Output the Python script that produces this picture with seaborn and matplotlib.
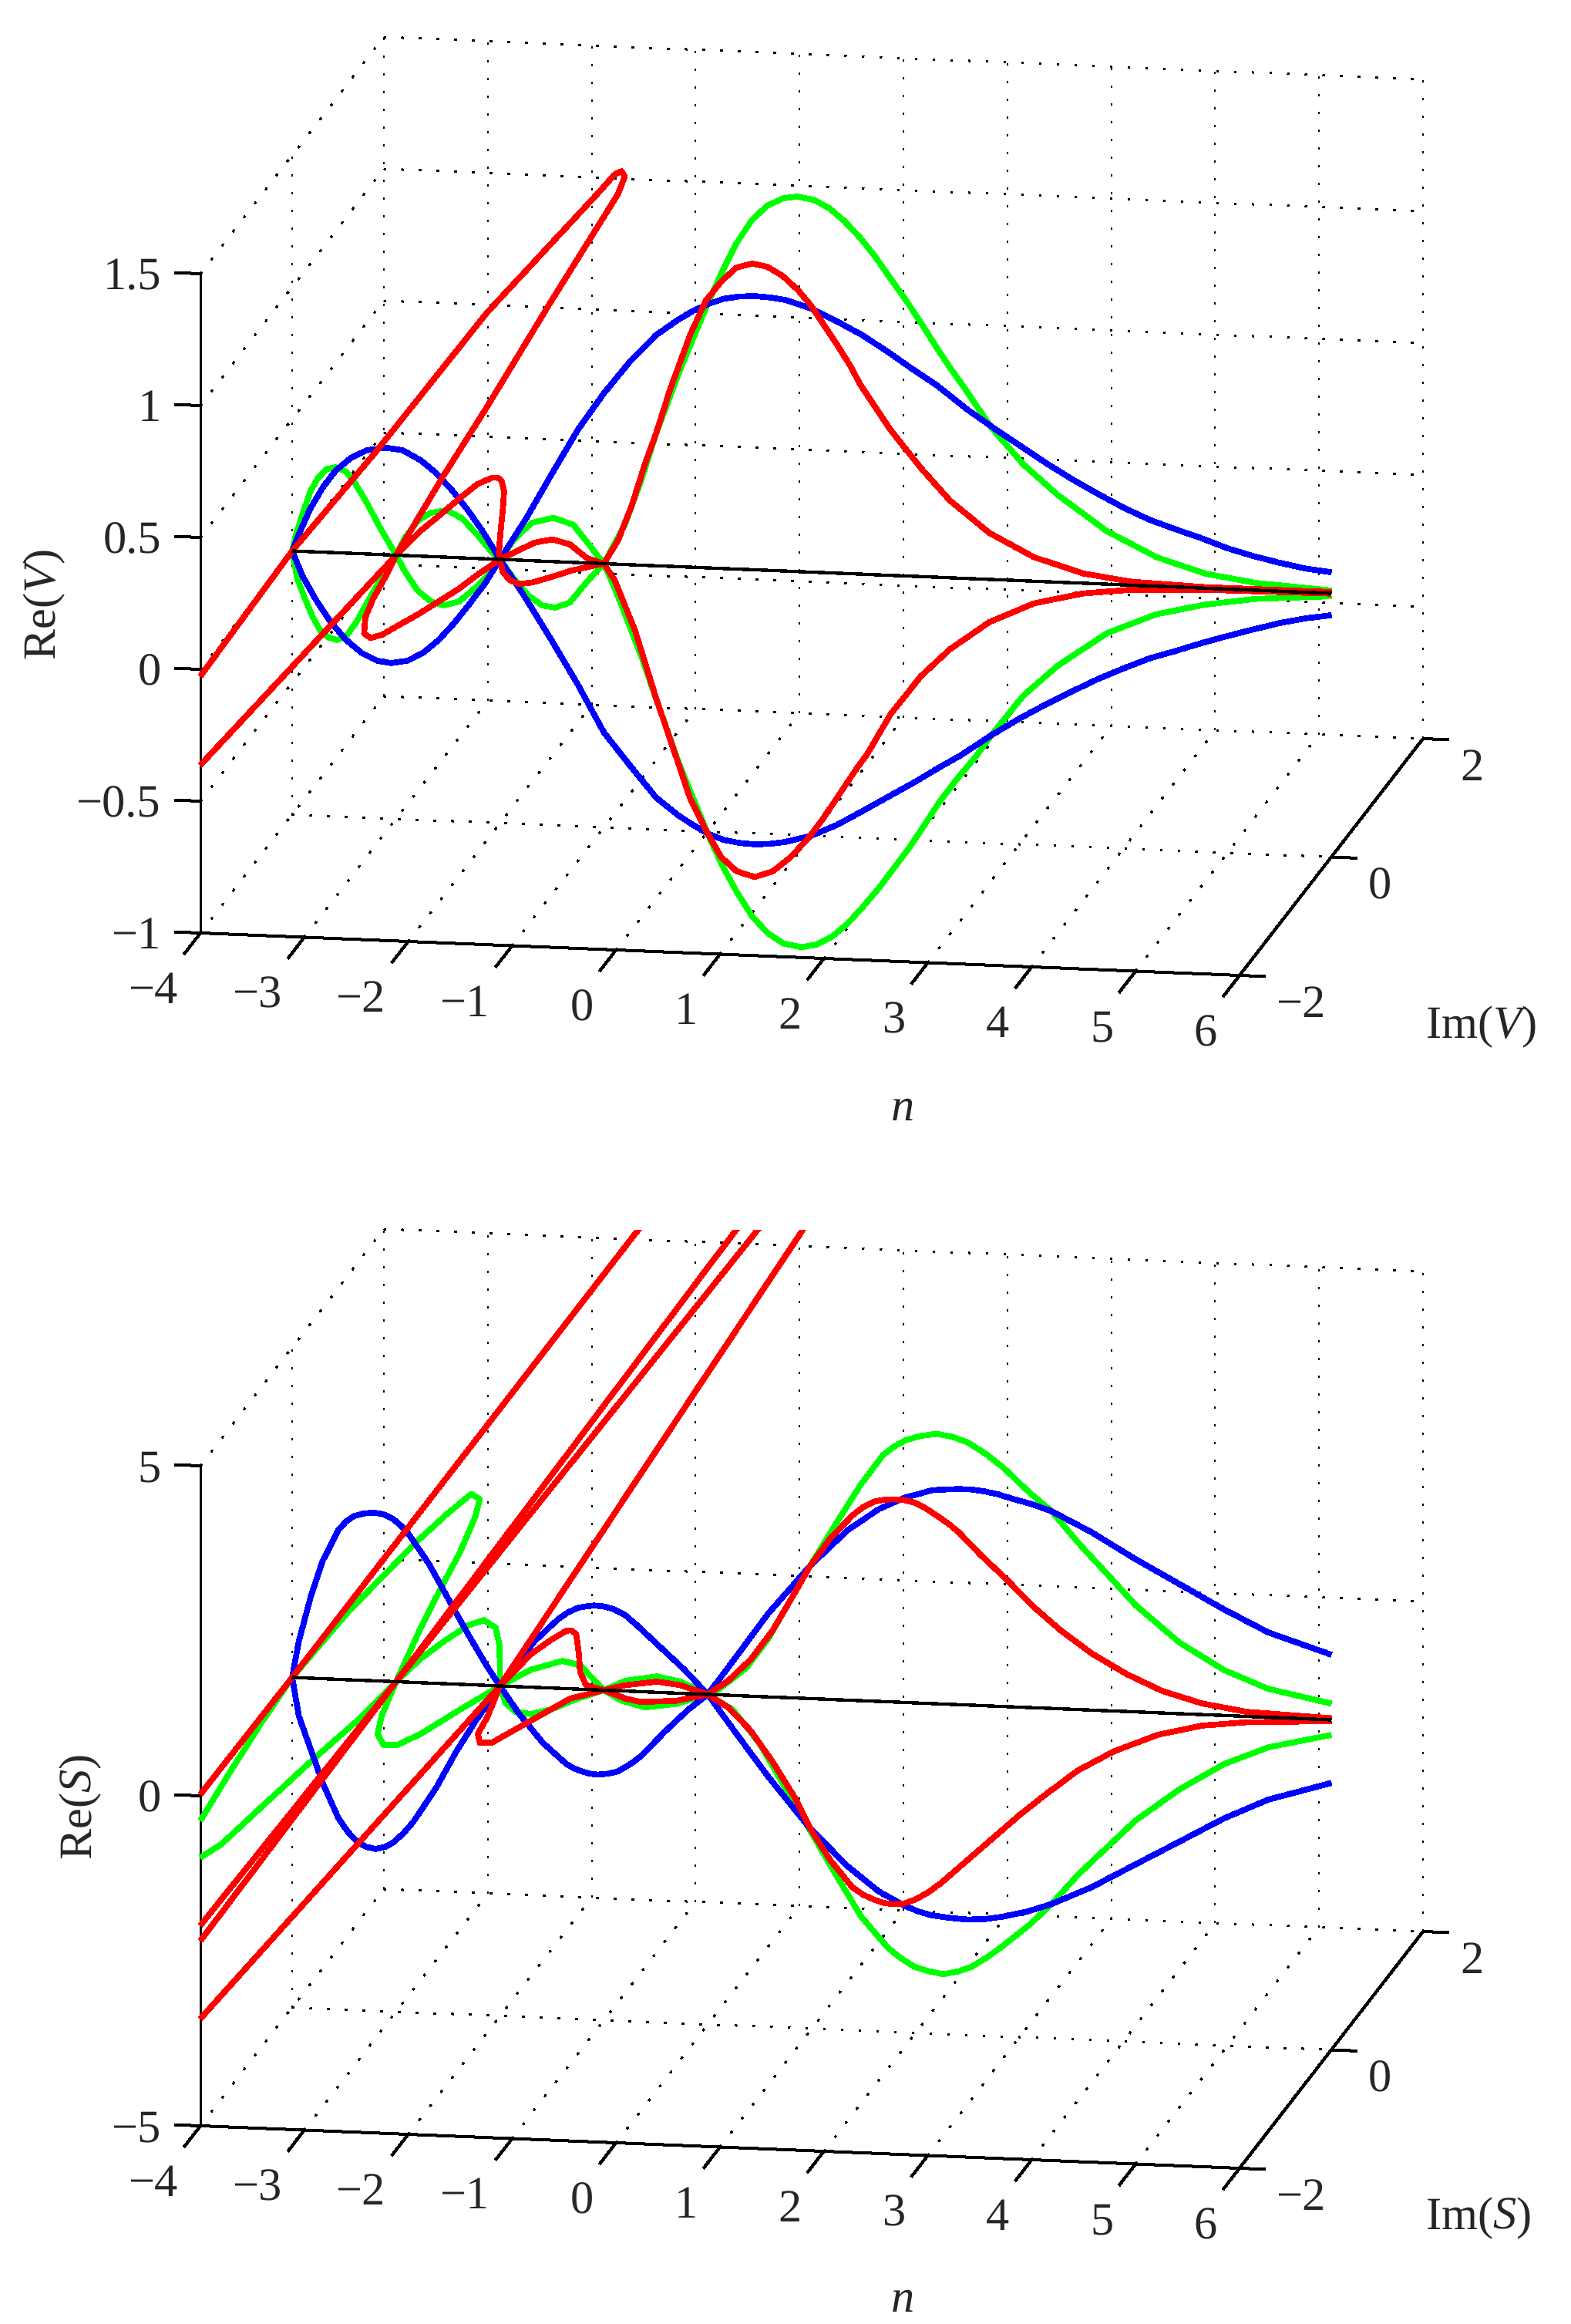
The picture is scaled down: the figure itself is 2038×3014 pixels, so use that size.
import numpy as np
import matplotlib
matplotlib.use("Agg")
import matplotlib.pyplot as plt
from matplotlib.patches import Rectangle
import seaborn as sns

# ---------------- axis values ----------------
n_ticks = [-4, -3, -2, -1, 0, 1, 2, 3, 4, 5, 6]
im_ticks = [-2, 0, 2]
re_ticks_V = [-1, -0.5, 0, 0.5, 1, 1.5]
re_ticks_S = [-5, 0, 5]
re_labels_V = ["\u22121", "\u22120.5", "0", "0.5", "1", "1.5"]
re_labels_S = ["\u22125", "0", "5"]

# ---------------- top panel, V ----------------
V_blue_up_n = [-4, -3.926, -3.827, -3.703, -3.58, -3.431, -3.283, -3.097, -2.937, -2.764, -2.615, -2.467, -2.319, -2.17, -2, -1.75, -1.5, -1.25, -1, -.75, -.5, -.291, -.143, .006, .154, .302, .451, .599, .748, .995, 1.242, 1.49, 1.737, 1.984, 2.207, 2.5, 2.75, 3, 3.25, 3.5, 3.75, 4, 4.25, 4.5, 4.75, 5, 5.25, 5.5, 5.75, 6]
V_blue_up_re = [0, .073, .162, .247, .312, .363, .393, .406, .399, .364, .318, .257, .187, .106, 0, .158, .333, .504, .646, .77, .874, .935, .972, 1.001, 1.023, 1.034, 1.038, 1.035, 1.028, 1.0, .955, .906, .846, .782, .727, .64, .575, .513, .451, .394, .342, .293, .251, .219, .189, .155, .129, .108, .09, .08]
V_blue_lo_n = [-4, -3.901, -3.777, -3.629, -3.481, -3.332, -3.184, -3.048, -2.887, -2.739, -2.59, -2.442, -2.294, -2.145, -2, -1.75, -1.5, -1.25, -1, -.75, -.5, -.291, -.143, .006, .154, .302, .451, .599, .748, .995, 1.242, 1.49, 1.737, 1.984, 2.231, 2.429, 2.75, 3, 3.25, 3.5, 3.75, 4, 4.25, 4.5, 4.75, 5, 5.25, 5.5, 5.75, 6]
V_blue_lo_re = [0, -.093, -.178, -.264, -.329, -.376, -.403, -.41, -.398, -.366, -.315, -.249, -.174, -.094, 0, -.145, -.301, -.463, -.64, -.761, -.878, -.941, -.977, -1.009, -1.029, -1.038, -1.041, -1.037, -1.027, -1.0, -.955, -.898, -.84, -.782, -.72, -.673, -.585, -.523, -.466, -.413, -.362, -.317, -.275, -.243, -.209, -.178, -.149, -.121, -.099, -.083]

V_green_up_n = [-4, -3.963, -3.901, -3.827, -3.753, -3.666, -3.58, -3.481, -3.394, -3.283, -3.159, -3, -2.912, -2.788, -2.665, -2.516, -2.368, -2.22, -2.096, -2, -1.858, -1.692, -1.487, -1.295, -1.129, -1, -.798, -.632, -.5, -.27, .006, .129, .278, .426, .574, .723, .859, 1.02, 1.168, 1.316, 1.465, 1.613, 1.761, 1.91, 2.058, 2.207, 2.33, 2.454, 2.73, 3.04, 3.37, 3.845, 4.32, 4.79, 5.27, 6]
V_green_up_re = [0, .063, .141, .226, .28, .316, .324, .309, .266, .195, .105, 0, .069, .135, .166, .178, .151, .091, .034, 0, .081, .144, .166, .143, .063, 0, .151, .332, .499, .744, 1.008, 1.118, 1.237, 1.327, 1.383, 1.413, 1.422, 1.412, 1.383, 1.336, 1.276, 1.205, 1.124, 1.044, .958, .868, .797, .731, .575, .44, .33, .2, .11, .055, .028, .011]
V_green_lo_n = [-4, -3.951, -3.876, -3.802, -3.728, -3.654, -3.567, -3.481, -3.382, -3.258, -3.135, -3, -2.912, -2.788, -2.665, -2.541, -2.393, -2.244, -2.121, -2, -1.858, -1.725, -1.593, -1.467, -1.328, -1.195, -1.096, -1, -.897, -.765, -.632, -.51, -.27, .006, .129, .278, .426, .574, .723, .896, 1.044, 1.193, 1.341, 1.489, 1.638, 1.786, 1.935, 2.083, 2.231, 2.38, 2.577, 2.73, 3.04, 3.37, 3.845, 4.32, 4.79, 5.27, 6]
V_green_lo_re = [0, -.103, -.18, -.247, -.299, -.322, -.331, -.315, -.26, -.17, -.085, 0, -.062, -.133, -.17, -.183, -.166, -.114, -.064, 0, -.075, -.133, -.168, -.174, -.153, -.087, -.041, 0, -.09, -.22, -.354, -.491, -.754, -1.014, -1.119, -1.224, -1.314, -1.375, -1.412, -1.424, -1.412, -1.38, -1.329, -1.263, -1.192, -1.112, -1.032, -.942, -.851, -.771, -.675, -.59, -.434, -.316, -.185, -.106, -.062, -.033, -.011]

# long red branch with a large imaginary part
V_redA_n = [-4, -4, -3.42, -2.62, -1.817, -1.72, -1.67, -1.637, -1.691, -2.097, -2.463, -2.727, -3, -3.36, -4]
V_redA_im = [-2, 0, .47, 1.126, 1.78, 1.86, 1.9, 1.9, 1.87, 1.29, .767, .39, 0, -.72, -2]
V_redA_re = [-.026, 0, .271, .674, 1.003, 1.046, 1.051, 1.031, .97, .675, .399, .211, 0, -.131, -.363]
V_redB_n = [-3, -2.764, -2.566, -2.393, -2.22, -2.145, -2.071, -2.022, -1.985, -1.96, -1.972, -1.997, -2.01, -2, -2.195, -2.393, -2.59, -2.788, -2.986, -3.135, -3.246, -3.308, -3.295, -3.221, -3.11, -3]
V_redB_re = [0, .096, .163, .224, .281, .296, .309, .31, .299, .26, .192, .094, .026, 0, -.055, -.117, -.169, -.221, -.268, -.304, -.318, -.302, -.239, -.169, -.089, 0]
V_red_up_n = [-2, -1.825, -1.659, -1.493, -1.328, -1.162, -1, -.864, -.732, -.6, -.5, -.368, -.167, -.019, .129, .278, .426, .574, .723, .871, .995, 1.118, 1.242, 1.366, 1.465, 1.76, 2.05, 2.33, 2.71, 3.14, 3.61, 4.08, 4.79, 6]
V_red_up_re = [0, .037, .07, .084, .068, .018, 0, .09, .225, .39, .499, .665, .884, 1.013, 1.088, 1.144, 1.161, 1.151, 1.118, 1.066, 1.01, .939, .867, .792, .72, .551, .412, .293, .176, .091, .037, .013, .004, .005]
V_red_lo_n = [-2, -1.974, -1.907, -1.825, -1.692, -1.493, -1.295, -1, -.897, -.699, -.5, -.167, -.019, .129, .278, .451, .624, .797, .97, 1.118, 1.267, 1.415, 1.539, 1.76, 2.05, 2.33, 2.71, 3.14, 3.61, 4.08, 4.79, 6]
V_red_lo_re = [0, -.047, -.076, -.09, -.083, -.057, -.029, 0, -.06, -.25, -.499, -.88, -.995, -1.095, -1.146, -1.165, -1.141, -1.084, -1.008, -.928, -.838, -.748, -.678, -.526, -.378, -.271, -.162, -.084, -.039, -.017, -.006, -.001]

# ---------------- bottom panel, S ----------------
S_blue_up_n = [-4, -3.935, -3.821, -3.708, -3.556, -3.481, -3.405, -3.31, -3.216, -3.121, -3.026, -2.951, -2.875, -2.686, -2.497, -2.307, -2.118, -2, -1.853, -1.664, -1.437, -1.342, -1.247, -1.172, -1.096, -1.002, -.907, -.793, -.68, -.453, -.225, 0, .283, .581, .987, 1.348, 1.647, 1.902, 2.03, 2.157, 2.285, 2.413, 2.541, 2.669, 2.797, 2.924, 3.116, 3.307, 3.691, 4.117, 4.543, 4.968, 5.394, 6]
S_blue_up_re = [0, .557, 1.235, 1.779, 2.259, 2.398, 2.483, 2.529, 2.549, 2.528, 2.46, 2.364, 2.235, 1.811, 1.287, .763, .272, 0, .322, .703, 1.053, 1.16, 1.233, 1.258, 1.276, 1.269, 1.235, 1.148, 1.001, .681, .36, 0, .61, 1.262, 2.016, 2.578, 2.914, 3.108, 3.167, 3.232, 3.252, 3.267, 3.268, 3.246, 3.21, 3.155, 3.084, 2.989, 2.697, 2.313, 1.96, 1.607, 1.286, .988]
S_blue_lo_n = [-4, -3.935, -3.821, -3.708, -3.556, -3.462, -3.367, -3.291, -3.197, -3.102, -3.026, -2.932, -2.837, -2.61, -2.421, -2.232, -2, -1.815, -1.588, -1.361, -1.285, -1.21, -1.134, -1.058, -.964, -.868, -.756, -.641, -.414, -.187, 0, .283, .581, .987, 1.348, 1.647, 1.902, 2.03, 2.157, 2.328, 2.498, 2.669, 2.84, 3.073, 3.307, 3.691, 4.117, 4.543, 4.968, 5.394, 6]
S_blue_lo_re = [0, -.583, -1.078, -1.574, -2.1, -2.309, -2.457, -2.52, -2.547, -2.508, -2.436, -2.296, -2.12, -1.571, -1.022, -.54, 0, -.413, -.834, -1.142, -1.204, -1.246, -1.274, -1.283, -1.264, -1.224, -1.116, -.975, -.591, -.241, 0, -.593, -1.208, -1.973, -2.52, -2.881, -3.086, -3.16, -3.209, -3.236, -3.25, -3.233, -3.184, -3.093, -2.964, -2.686, -2.31, -1.935, -1.559, -1.247, -.956]

S_greenA_n = [-4, -4, -4, -4, -3.584, -3.3, -3.118, -2.874, -2.708, -2.635, -2.68, -2.74, -2.812, -2.9, -3, -3.196, -3.416, -3.675, -3.894, -4]
S_greenA_im = [-2, -1.317, -.7, 0, .315, .53, .668, .853, .979, 1, 1, .806, .583, .311, 0, -.392, -.832, -1.35, -1.788, -2]
S_greenA_re = [-.374, -.21, -.09, 0, .766, 1.2, 1.484, 1.8, 1.986, 1.891, 1.62, 1.256, .95, .544, 0, -.245, -.437, -.696, -.919, -.935]
S_greenB_n = [-3, -2.762, -2.534, -2.307, -2.156, -2.042, -2.005, -2, -2, -2.383, -2.762, -2.989, -3.121, -3.178, -3.14, -3]
S_greenB_re = [0, .365, .647, .897, .987, .881, .614, .28, 0, -.382, -.775, -.958, -.966, -.802, -.532, 0]
S_green_up_n = [-2, -1.702, -1.4, -1.229, -1.115, -1, -.793, -.49, -.263, 0, .113, .371, .581, .837, .987, 1.221, 1.348, 1.476, 1.689, 1.796, 1.902, 2.05, 2.2, 2.349, 2.498, 2.669, 2.84, 3.094, 3.307, 3.563, 3.86, 4.117, 4.543, 4.968, 5.394, 6]
S_green_up_re = [0, .265, .418, .362, .182, 0, .156, .242, .176, 0, .092, .426, .882, 1.595, 2.016, 2.633, 2.958, 3.283, 3.74, 3.873, 3.974, 4.048, 4.09, 4.055, 3.982, 3.822, 3.624, 3.26, 2.989, 2.53, 2.043, 1.616, 1.073, .689, .431, .247]
S_green_lo_n = [-2, -1.948, -1.853, -1.702, -1.513, -1.247, -1, -.831, -.604, -.301, 0, .241, .497, .753, .987, 1.221, 1.476, 1.734, 1.86, 1.99, 2.115, 2.265, 2.413, 2.54, 2.69, 2.84, 3.094, 3.307, 3.563, 3.86, 4.117, 4.543, 4.968, 5.394, 6]
S_green_lo_re = [0, -.254, -.382, -.406, -.327, -.142, 0, -.148, -.235, -.162, 0, -.217, -.707, -1.387, -2.005, -2.623, -3.271, -3.73, -3.88, -3.999, -4.054, -4.094, -4.041, -3.963, -3.808, -3.628, -3.294, -2.964, -2.504, -2.042, -1.645, -1.143, -.736, -.455, -.228]

S_red1_n = [-4, -4, -1.495]
S_red1_im = [-2, 0, 2]
S_red1_re = [.023, 0, 5.266]
S_red2_n = [-4, -3, -.554]
S_red2_im = [-2, 0, 2]
S_red2_re = [-2.196, 0, 5.327]
S_red3_n = [-4, -3, -.343]
S_red3_im = [-2, 0, 2]
S_red3_re = [-1.963, 0, 5.34]
S_red4_n = [-4, -2, .08]
S_red4_im = [-2, 0, 2]
S_red4_re = [-3.376, 0, 5.367]
S_red_up_n = [-2, -2.118, -2.212, -2.194, -2.08, -1.739, -1.55, -1.323, -1, -.793, -.49, -.263, 0, .199, .412, .625, .837, .987, 1.179, 1.392, 1.498, 1.605, 1.689, 1.776, 1.883, 1.989, 2.096, 2.2, 2.31, 2.413, 2.627, 2.882, 3.14, 3.395, 3.691, 4.032, 4.372, 4.756, 5.183, 6]
S_red_up_re = [0, -.466, -.74, -.873, -.866, -.542, -.362, -.147, 0, .089, .162, .123, 0, .224, .555, 1.011, 1.595, 2.016, 2.44, 2.802, 2.936, 3.025, 3.056, 3.07, 3.068, 3.035, 2.955, 2.854, 2.741, 2.615, 2.28, 1.917, 1.522, 1.19, .861, .566, .334, .169, .07, .025]
S_red_lo_n = [-2, -1.702, -1.512, -1.361, -1.316, -1.266, -1.24, -1.229, -1.172, -1, -.793, -.642, -.301, 0, .199, .412, .625, .837, .987, 1.179, 1.392, 1.498, 1.605, 1.689, 1.776, 1.883, 1.989, 2.115, 2.243, 2.498, 2.754, 3.01, 3.266, 3.564, 3.905, 4.33, 4.756, 5.183, 6]
S_red_lo_re = [0, .5, .726, .877, .887, .83, .529, .262, .064, 0, -.113, -.156, -.115, 0, -.187, -.522, -.984, -1.508, -1.973, -2.436, -2.834, -2.941, -3.01, -3.049, -3.063, -3.049, -2.985, -2.87, -2.716, -2.351, -1.986, -1.621, -1.288, -.921, -.614, -.334, -.167, -.089, -.019]

BLUE, GREEN, RED = "#0000ff", "#00ff00", "#ff0000"
SERIF = "Liberation Serif"
FS = 43.5

sns.set_style("white")
plt.rcParams["font.family"] = [SERIF, "DejaVu Serif"]
plt.rcParams["mathtext.fontset"] = "custom"
plt.rcParams["mathtext.rm"] = SERIF
plt.rcParams["mathtext.it"] = SERIF + ":italic"
plt.rcParams["text.hinting"] = "none"

fig = plt.figure(figsize=(20.38, 30.14), dpi=100, facecolor="white")
ax = fig.add_axes([0, 0, 1, 1])
ax.set_xlim(0, 2038)
ax.set_ylim(3014, 0)
ax.axis("off")


class Panel:
    """Orthographic view of the (n, Im, Re) box onto the page."""

    def __init__(self, y0, re_min, re_max, re_unit):
        self.y0, self.re_min, self.re_max, self.re_unit = y0, re_min, re_max, re_unit

    def __call__(self, n, im, re):
        n, im, re = np.asarray(n, float), np.asarray(im, float), np.asarray(re, float)
        x = 260 + 134.8 * (n + 4) + 59.5 * (im + 2)
        y = self.y0 + 5.5 * (n + 4) - 76.75 * (im + 2) - self.re_unit * (re - self.re_min)
        return x, y


def line(panel, n, im, re, color="black", lw=2.16, clip=None, **kw):
    n = np.atleast_1d(np.asarray(n, float))
    im = np.broadcast_to(np.asarray(im, float), n.shape)
    re = np.broadcast_to(np.asarray(re, float), n.shape)
    x, y = panel(n, im, re)
    sns.lineplot(x=x, y=y, sort=False, estimator=None, errorbar=None, color=color,
                 linewidth=lw, ax=ax, legend=False, **kw)
    ln = ax.lines[-1]
    ln.set_solid_capstyle("butt")
    ln.set_solid_joinstyle("round")
    ln.set_antialiased(False)
    if clip is not None:
        ln.set_clip_path(Rectangle((0, clip), 2038, 3014 - clip, transform=ax.transData))
    return ln


def grid(panel, re_ticks):
    lo, hi = panel.re_min, panel.re_max
    kw = dict(lw=1.45, linestyle=(0, (1, 10)))
    for nv in n_ticks:
        line(panel, [nv, nv], [-2, 2], [lo, lo], **kw)       # floor
        line(panel, [nv, nv], [2, 2], [lo, hi], **kw)        # back wall
    for iv in im_ticks:
        line(panel, [-4, 6], [iv, iv], [lo, lo], **kw)       # floor
        line(panel, [-4, -4], [iv, iv], [lo, hi], **kw)      # left wall
    for rv in re_ticks:
        line(panel, [-4, 6], [2, 2], [rv, rv], **kw)         # back wall
        line(panel, [-4, -4], [-2, 2], [rv, rv], **kw)       # left wall


def frame(panel, re_ticks, re_labels):
    lo, hi = panel.re_min, panel.re_max
    line(panel, [-4, 6], [-2, -2], [lo, lo])
    line(panel, [6, 6], [-2, 2], [lo, lo])
    line(panel, [-4, -4], [-2, -2], [lo, hi])
    for nv in n_ticks:
        line(panel, [nv, nv], [-2, -2.36], [lo, lo])
        x, y = panel(nv, -2, lo)
        lab = str(nv).replace("-", "\u2212")
        ax.text(x - 29, y + 91, lab, ha="right", va="baseline", fontsize=FS)
    for iv in im_ticks:
        line(panel, [6, 6.25], [iv, iv], [lo, lo])
        x, y = panel(6, iv, lo)
        lab = str(iv).replace("-", "\u2212")
        ax.text(x + 48, y + 54, lab, ha="left", va="baseline", fontsize=FS)
    for rv, lab in zip(re_ticks, re_labels):
        line(panel, [-4, -4.25], [-2, -2], [rv, rv])
        x, y = panel(-4, -2, rv)
        ax.text(209, y + 20, lab, ha="right", va="baseline", fontsize=FS)


P_V = Panel(1210, -1, 1.5, 342)
P_S = Panel(2757, -5, 5, 85.6)

for P, ticks, labs in ((P_V, re_ticks_V, re_labels_V), (P_S, re_ticks_S, re_labels_S)):
    grid(P, ticks)
    frame(P, ticks, labs)

CW = 4.75
# top panel
line(P_V, V_green_up_n, 0, V_green_up_re, GREEN, CW)
line(P_V, V_green_lo_n, 0, V_green_lo_re, GREEN, CW)
line(P_V, V_blue_up_n, 0, V_blue_up_re, BLUE, CW)
line(P_V, V_blue_lo_n, 0, V_blue_lo_re, BLUE, CW)
line(P_V, V_redA_n, V_redA_im, V_redA_re, RED, CW)
line(P_V, V_redB_n, 0, V_redB_re, RED, CW)
line(P_V, V_red_up_n, 0, V_red_up_re, RED, CW)
line(P_V, V_red_lo_n, 0, V_red_lo_re, RED, CW)
line(P_V, [-4, 6], 0, 0, "black", 2.4)

# bottom panel
line(P_S, S_greenA_n, S_greenA_im, S_greenA_re, GREEN, CW)
line(P_S, S_greenB_n, 0, S_greenB_re, GREEN, CW)
line(P_S, S_green_up_n, 0, S_green_up_re, GREEN, CW)
line(P_S, S_green_lo_n, 0, S_green_lo_re, GREEN, CW)
line(P_S, S_blue_up_n, 0, S_blue_up_re, BLUE, CW)
line(P_S, S_blue_lo_n, 0, S_blue_lo_re, BLUE, CW)
for nn, ii, rr in ((S_red1_n, S_red1_im, S_red1_re), (S_red2_n, S_red2_im, S_red2_re),
                   (S_red3_n, S_red3_im, S_red3_re), (S_red4_n, S_red4_im, S_red4_re)):
    line(P_S, nn, ii, rr, RED, CW, clip=1595)
line(P_S, S_red_up_n, 0, S_red_up_re, RED, CW)
line(P_S, S_red_lo_n, 0, S_red_lo_re, RED, CW)
line(P_S, [-4, 6], 0, 0, "black", 2.4)

# axis titles
ax.text(72, 784, "Re($V$)", rotation=90, rotation_mode="anchor", ha="center", va="baseline", fontsize=FS)
ax.text(119, 2344, "Re($S$)", rotation=90, rotation_mode="anchor", ha="center", va="baseline", fontsize=FS)
ax.text(1849, 1346, "Im($V$)", ha="left", va="baseline", fontsize=FS)
ax.text(1849, 2891, "Im($S$)", ha="left", va="baseline", fontsize=FS)
ax.text(1170, 1453, "$n$", ha="center", va="baseline", fontsize=FS)
ax.text(1170, 2998, "$n$", ha="center", va="baseline", fontsize=FS)

fig.savefig("out.png", dpi=100, facecolor="white")
